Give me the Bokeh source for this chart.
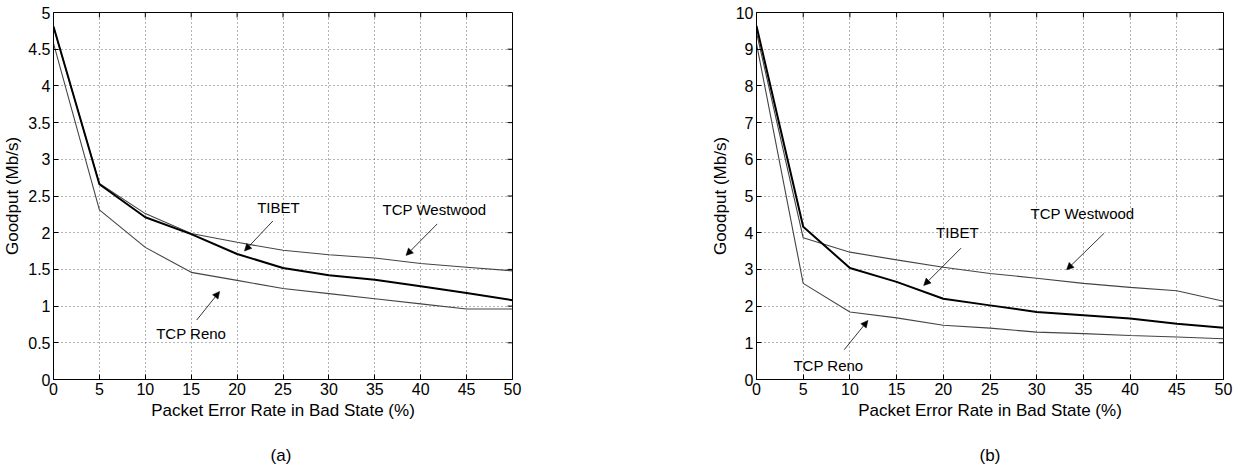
import math
from bokeh.plotting import figure
from bokeh.layouts import row, column
from bokeh.models import FixedTicker, Label, Arrow, NormalHead, Range1d
from bokeh.embed import file_html
from bokeh.resources import INLINE

# ---------------- data ----------------
per = [0, 5, 10, 15, 20, 25, 30, 35, 40, 45, 50]

# (a)
a_tibet = [4.81, 2.66, 2.21, 1.98, 1.71, 1.52, 1.42, 1.36, 1.27, 1.18, 1.08]
a_westwood = [4.80, 2.67, 2.26, 1.99, 1.87, 1.76, 1.70, 1.655, 1.58, 1.53, 1.48]
a_reno = [4.58, 2.31, 1.80, 1.46, 1.35, 1.24, 1.17, 1.10, 1.03, 0.96, 0.96]

# (b)
b_tibet = [9.63, 4.16, 3.04, 2.66, 2.20, 2.02, 1.84, 1.75, 1.66, 1.52, 1.41]
b_westwood = [9.45, 3.86, 3.47, 3.26, 3.06, 2.89, 2.76, 2.62, 2.51, 2.42, 2.13]
b_reno = [9.15, 2.62, 1.84, 1.68, 1.48, 1.40, 1.29, 1.25, 1.20, 1.16, 1.11]

x_ticks = [0, 5, 10, 15, 20, 25, 30, 35, 40, 45, 50]
a_y_ticks = [0, 0.5, 1, 1.5, 2, 2.5, 3, 3.5, 4, 4.5, 5]
b_y_ticks = [0, 1, 2, 3, 4, 5, 6, 7, 8, 9, 10]

x_label = "Packet Error Rate in Bad State (%)"
y_label = "Goodput (Mb/s)"
captions = ["(a)", "(b)"]

# annotations: (text, text_x, text_y, arrow_x0, arrow_y0, arrow_x1, arrow_y1)
a_notes = [
    ("TIBET", 24.5, 2.34, 23.9, 2.16, 20.8, 1.75),
    ("TCP Westwood", 41.5, 2.32, 41.8, 2.12, 38.4, 1.69),
    ("TCP Reno", 15.0, 0.63, 15.6, 0.81, 18.1, 1.20),
]
b_notes = [
    ("TIBET", 21.5, 4.01, 21.9, 3.58, 17.9, 2.56),
    ("TCP Westwood", 34.9, 4.51, 37.2, 3.98, 33.2, 2.99),
    ("TCP Reno", 7.7, 0.39, 9.39, 0.81, 11.93, 1.61),
]

FONT = "Liberation Sans"
MAIN_H = 440
CAP_H = 469 - MAIN_H


def fmt(t):
    return str(int(t)) if float(t).is_integer() else str(t)


def make_plot(tibet, westwood, reno, y_max, y_ticks, notes, width, bl, br, bt):
    p = figure(width=width, height=MAIN_H, output_backend="svg",
               toolbar_location=None,
               x_range=Range1d(0, 50), y_range=Range1d(0, y_max),
               min_border_left=bl, min_border_right=br,
               min_border_top=bt, min_border_bottom=MAIN_H - 379)
    p.background_fill_color = "white"
    p.border_fill_color = "white"
    p.outline_line_color = "black"
    p.outline_line_width = 1

    p.xaxis.ticker = FixedTicker(ticks=x_ticks)
    p.yaxis.ticker = FixedTicker(ticks=y_ticks)
    p.yaxis.major_label_overrides = {t: fmt(t) for t in y_ticks}

    for ax in list(p.xaxis) + list(p.yaxis):
        ax.major_tick_in = 5
        ax.major_tick_out = 0
        ax.minor_tick_in = 0
        ax.minor_tick_out = 0
        ax.axis_line_color = "black"
        ax.major_tick_line_color = "black"
        ax.major_label_text_font = FONT
        ax.major_label_text_font_size = "16px"
        ax.major_label_text_color = "black"
        ax.major_label_standoff = 3
        ax.axis_label_text_font = FONT
        ax.axis_label_text_font_size = "17px"
        ax.axis_label_text_font_style = "normal"
        ax.axis_label_text_color = "black"
        ax.axis_label_standoff = 3

    p.xaxis.axis_label = x_label
    p.yaxis.axis_label = y_label

    for g in list(p.xgrid) + list(p.ygrid):
        g.grid_line_color = "#333333"
        g.grid_line_dash = "1 3"
        g.grid_line_width = 1
        g.grid_line_alpha = 0.75
    p.xgrid.ticker = FixedTicker(ticks=x_ticks)
    p.ygrid.ticker = FixedTicker(ticks=y_ticks)

    # mirrored inward ticks on the top and right edges of the box
    p.ray(x=x_ticks, y=[y_max] * len(x_ticks), length=5, length_units="screen",
          angle=-math.pi / 2, line_color="black", line_width=1)
    p.ray(x=[50] * len(y_ticks), y=y_ticks, length=5, length_units="screen",
          angle=math.pi, line_color="black", line_width=1)

    p.line(per, westwood, line_color="#444444", line_width=1.1)
    p.line(per, reno, line_color="#444444", line_width=1.1)
    p.line(per, tibet, line_color="black", line_width=2)

    for txt, tx, ty, x0, y0, x1, y1 in notes:
        p.add_layout(Label(x=tx, y=ty, text=txt, text_font=FONT, text_font_size="15px",
                           text_align="center", text_baseline="middle",
                           text_color="black"))
        p.add_layout(Arrow(end=NormalHead(size=7, fill_color="black", line_color="black",
                                          line_width=0.5),
                           x_start=x0, y_start=y0, x_end=x1, y_end=y1,
                           line_color="black", line_width=0.8))
    return p


def make_caption(text, width, bl, br):
    c = figure(width=width, height=CAP_H, output_backend="svg", toolbar_location=None,
               x_range=Range1d(0, 50), y_range=Range1d(0, 1),
               min_border_left=bl, min_border_right=br,
               min_border_top=0, min_border_bottom=0)
    c.axis.visible = False
    c.grid.visible = False
    c.outline_line_color = None
    c.background_fill_color = "white"
    c.border_fill_color = "white"
    c.add_layout(Label(x=25, y=0.5, text=text, text_font=FONT, text_font_size="17px",
                       text_align="center", text_baseline="middle", text_color="black"))
    return c


p1 = make_plot(a_tibet, a_westwood, a_reno, 5, a_y_ticks, a_notes, 620, 49, 108, 12)
p2 = make_plot(b_tibet, b_westwood, b_reno, 10, b_y_ticks, b_notes, 621, 136, 18, 11)
c1 = make_caption(captions[0], 620, 49, 108)
c2 = make_caption(captions[1], 621, 136, 18)

layout = column(row(p1, p2), row(c1, c2))
open("out.html", "w").write(file_html(layout, INLINE))
